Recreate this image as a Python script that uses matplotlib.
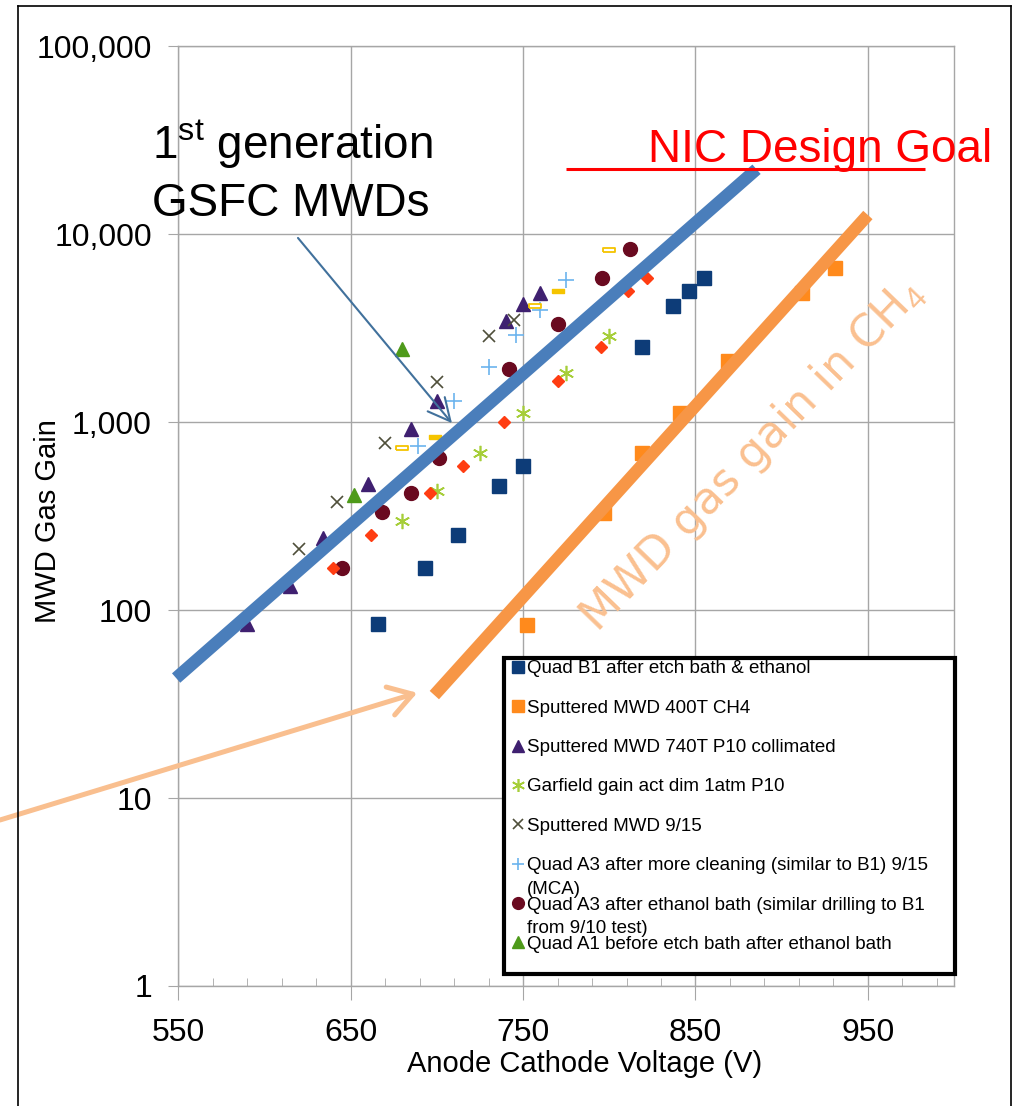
import numpy as np
import matplotlib
matplotlib.use('Agg')
import matplotlib.pyplot as plt
from matplotlib.lines import Line2D
from matplotlib.patches import Rectangle
from matplotlib.ticker import FixedLocator, FixedFormatter, NullLocator

plt.rcParams['font.family'] = ['Liberation Sans', 'DejaVu Sans']
plt.rcParams['mathtext.fontset'] = 'custom'
plt.rcParams['mathtext.rm'] = 'Liberation Sans'

# values (voltage V, gain)
b1_v = [666, 693, 712, 736, 750, 819, 837, 846, 855]
b1_g = [84, 168, 251, 457, 584, 2510, 4150, 4990, 5850]
ch4_v = [752, 797, 819, 841, 869, 912, 931]
ch4_g = [83, 328, 685, 1117, 2114, 4865, 6607]
p10_v = [590, 615, 634, 660, 685, 700, 740, 750, 760]
p10_g = [84, 134, 242, 469, 919, 1295, 3452, 4252, 4865]
garf_v = [680, 700, 725, 750, 775, 800]
garf_g = [298, 430, 685, 1117, 1825, 2872]
s915_v = [620, 642, 670, 700, 730, 745]
s915_g = [211, 376, 774, 1634, 2872, 3494]
a3c_v = [689, 710, 730, 746, 760, 775]
a3c_g = [746, 1295, 1965, 2908, 3952, 5705]
a3e_v = [645, 668, 685, 701, 742, 770, 796, 812]
a3e_g = [168, 332, 420, 644, 1917, 3327, 5847, 8345]
a1_v = [652, 680]
a1_g = [409, 2449]
red_v = [640, 662, 696, 715, 739, 770, 795, 811, 822]
red_g = [168, 251, 420, 584, 1001, 1655, 2510, 4986, 5847]
ydash_v = [699, 770]
ydash_g = [833, 4986]
yrect_v = [680, 757, 800]
yrect_g = [728, 4148, 8241]

# hand drawn trend lines
blue_v = [548.7, 885.4]
blue_g = [43.5, 22150]
orange_v = [698.5, 950]
orange_g = [35.3, 12650]
goal_v = [775, 983]
goal_g = [22100, 22100]

x_ticks = [550, 650, 750, 850, 950]
y_ticks = [1, 10, 100, 1000, 10000, 100000]
y_tick_labels = ['1', '10', '100', '1,000', '10,000', '100,000']

legend_labels = ['Quad B1 after etch bath & ethanol',
                 'Sputtered MWD 400T CH4',
                 'Sputtered MWD 740T P10 collimated',
                 'Garfield gain act dim 1atm P10',
                 'Sputtered MWD 9/15',
                 'Quad A3 after more cleaning (similar to B1) 9/15\n(MCA)',
                 'Quad A3 after ethanol bath (similar drilling to B1\nfrom 9/10 test)',
                 'Quad A1 before etch bath after ethanol bath']

dash = [(-1, -0.33), (1, -0.33), (1, 0.33), (-1, 0.33), (-1, -0.33)]
styles = {
    'b1': dict(marker='s', ms=9.5, color='#0D3C78'),
    'ch4': dict(marker='s', ms=9.5, color='#FF8A1C'),
    'p10': dict(marker='^', ms=10, color='#3F2070'),
    'garf': dict(marker=(6, 2, 0), ms=11, mew=1.2, color='#A6CE39'),
    's915': dict(marker='x', ms=9, mew=1.2, color='#4F4F3A'),
    'a3c': dict(marker='+', ms=11, mew=1.2, color='#6CB4EE'),
    'a3e': dict(marker='o', ms=10, color='#6A0A20'),
    'a1': dict(marker='^', ms=10, color='#4E9A1A'),
    'red': dict(marker='D', ms=6.5, color='#FF3D12'),
    'ydash': dict(marker=dash, ms=9, color='#F5C400'),
    'yrect': dict(marker=dash, ms=9, mfc='white', mec='#F5C400', mew=1.3),
}
series = [('b1', b1_v, b1_g), ('ch4', ch4_v, ch4_g), ('p10', p10_v, p10_g),
          ('garf', garf_v, garf_g), ('s915', s915_v, s915_g), ('a3c', a3c_v, a3c_g),
          ('a3e', a3e_v, a3e_g), ('a1', a1_v, a1_g), ('red', red_v, red_g),
          ('ydash', ydash_v, ydash_g), ('yrect', yrect_v, yrect_g)]

fig = plt.figure(figsize=(10.18, 11.06), dpi=100)
ax = fig.add_axes([0.1752, 0.1085, 0.762, 0.8497])

for key, v, g in series:
    ax.plot(v, g, linestyle='none', zorder=3, **styles[key])

ax.plot(blue_v, blue_g, color='#4A7EBB', lw=9, solid_capstyle='butt', zorder=4, clip_on=False)
ax.plot(orange_v, orange_g, color='#F79646', lw=9, solid_capstyle='butt', zorder=4)
ax.plot(goal_v, goal_g, color='#FF0000', lw=2.2, solid_capstyle='butt', zorder=4)

ax.set_yscale('log')
ax.set_xlim(550, 1000)
ax.set_ylim(1, 100000)
ax.xaxis.set_major_locator(FixedLocator(x_ticks))
ax.xaxis.set_minor_locator(FixedLocator(np.arange(550, 1001, 20)))
ax.yaxis.set_major_locator(FixedLocator(y_ticks))
ax.yaxis.set_major_formatter(FixedFormatter(y_tick_labels))
ax.yaxis.set_minor_locator(NullLocator())
ax.grid(which='major', color='#A6A6A6', lw=1.0)
ax.set_axisbelow(True)
for s in ax.spines.values():
    s.set_color('#A6A6A6')
    s.set_linewidth(1.0)
ax.tick_params(axis='x', which='major', direction='out', length=10, color='#A6A6A6', labelsize=23, pad=13)
ax.tick_params(axis='x', which='minor', direction='in', length=6, color='#A6A6A6')
ax.tick_params(axis='y', which='major', direction='out', length=7, color='#A6A6A6', labelsize=23, pad=12)

ax.set_xlabel('Anode Cathode Voltage (V)', fontsize=21)
ax.set_ylabel('MWD Gas Gain', fontsize=21)
ax.xaxis.set_label_coords(0.524, -0.068)
ax.yaxis.set_label_coords(-0.168, 0.495)
ax.yaxis.label.set_va('center')

# annotations
ax.text(882.7, 668, r'MWD gas gain in CH$_4$', rotation=46, rotation_mode='anchor',
        ha='center', va='center', fontsize=32, color='#FAC090', family=['DejaVu Sans'], zorder=5)
ax.annotate('', xy=(708.7, 988), xytext=(619.4, 9550),
            arrowprops=dict(arrowstyle='->, head_length=0.4, head_width=0.2', mutation_scale=40,
                            color='#41719C', lw=1.5, shrinkA=0, shrinkB=0), zorder=5)
ax.annotate('', xy=(688.6, 36.3), xytext=(0.0, 1 - 820 / 1106), textcoords='figure fraction',
            arrowprops=dict(arrowstyle='->, head_length=0.4, head_width=0.25', mutation_scale=42,
                            color='#F9BF8F', lw=3.6, shrinkA=0, shrinkB=0),
            annotation_clip=False, zorder=5)

fig.text(152 / 1018, 1 - 159 / 1106, r'1$^{\mathrm{st}}$ generation', fontsize=33, va='baseline')
fig.text(152 / 1018, 1 - 216 / 1106, 'GSFC MWDs', fontsize=33, va='baseline')
fig.text(648 / 1018, 1 - 162 / 1106, 'NIC Design Goal', fontsize=33, color='#FF0000', va='baseline')

# legend drawn by hand (8 entries only, like the original)
ax.add_patch(Rectangle((0.4199, 0.0128), 0.5814, 0.3362, transform=ax.transAxes, fc='white',
                       ec='black', lw=3, zorder=10, clip_on=False))
legend_keys = ['b1', 'ch4', 'p10', 'garf', 's915', 'a3c', 'a3e', 'a1']
for i, (key, lab) in enumerate(zip(legend_keys, legend_labels)):
    y = 0.3397 - i * 0.0419
    st = dict(styles[key])
    st['ms'] = st['ms'] * 0.85
    ax.plot([0.4378], [y], transform=ax.transAxes, clip_on=False, zorder=11, linestyle='none', **st)
    for j, line in enumerate(lab.split('\n')):
        ax.text(0.4495, y - j * 0.0255, line, transform=ax.transAxes, fontsize=13.5,
                va='center_baseline', zorder=11)

# frame around the picture
fig.add_artist(Line2D([18 / 1018, 18 / 1018], [0, 1 - 6 / 1106], transform=fig.transFigure, color='black', lw=1.2))
fig.add_artist(Line2D([18 / 1018, 1011 / 1018], [1 - 6 / 1106, 1 - 6 / 1106], transform=fig.transFigure, color='black', lw=1.2))
fig.add_artist(Line2D([1011 / 1018, 1011 / 1018], [0, 1 - 6 / 1106], transform=fig.transFigure, color='black', lw=1.2))

fig.savefig('out.png', dpi=100)
